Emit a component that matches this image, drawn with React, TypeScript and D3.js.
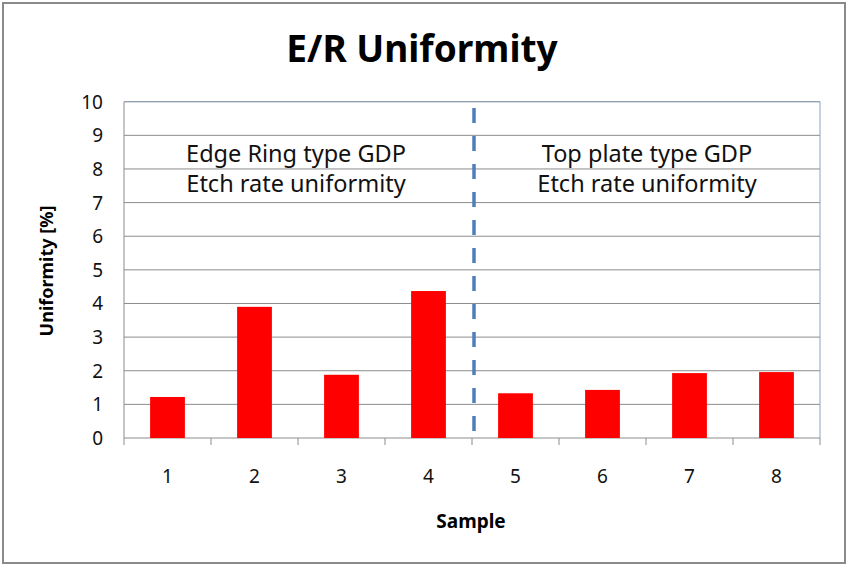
import React from "react";
import * as d3 from "d3";

const samples = ["1", "2", "3", "4", "5", "6", "7", "8"];
const uniformity = [1.22, 3.9, 1.88, 4.37, 1.33, 1.43, 1.93, 1.96];
const yTicks = [0, 1, 2, 3, 4, 5, 6, 7, 8, 9, 10];
const titleText = "E/R Uniformity";
const xTitle = "Sample";
const yTitle = "Uniformity [%]";
const leftNote = ["Edge Ring type GDP", "Etch rate uniformity"];
const rightNote = ["Top plate type GDP", "Etch rate uniformity"];
const dividerAfter = 4;

export default function App() {
  const W = 868, H = 568;
  const left = 124, right = 820, top = 101.7, bottom = 438;
  const x = d3.scaleBand().domain(samples).range([left, right]).paddingInner(0.6).paddingOuter(0.3);
  const xb = d3.scaleBand().domain(samples).range([left, right]);
  const y = d3.scaleLinear().domain([0, 10]).range([bottom, top]);
  const font = "'Noto Sans', 'Open Sans', sans-serif";
  const divX = left + xb.step() * dividerAfter;
  return (
    <svg width={W} height={H} style={{ position: "absolute", left: 0, top: 0, background: "#fff" }}>
      <rect x={3} y={3} width={842} height={560} fill="#fff" stroke="#8a8a8a" strokeWidth={2} />
      <text x={422} y={62} textAnchor="middle" fontFamily={font} fontWeight="bold" fontSize={37}>{titleText}</text>
      {yTicks.map((t) => (
        <g key={t}>
          <line x1={left} x2={right} y1={y(t)} y2={y(t)} stroke="#8c8c8c" strokeWidth={1} />
          <text x={103} y={y(t) + 7} textAnchor="end" fontFamily={font} fontSize={19} fill="#111">{t}</text>
        </g>
      ))}
      <line x1={left} x2={left} y1={top} y2={bottom} stroke="#8c8c8c" />
      <line x1={right} x2={right} y1={top} y2={bottom} stroke="#8ea3bd" />
      <line x1={left} x2={right} y1={top} y2={top} stroke="#8ea3bd" />
      {samples.map((s, i) => (
        <line key={"t" + s} x1={left + xb.step() * i} x2={left + xb.step() * i} y1={bottom} y2={bottom + 7} stroke="#8c8c8c" />
      ))}
      <line x1={right} x2={right} y1={bottom} y2={bottom + 7} stroke="#8c8c8c" />
      {samples.map((s, i) => (
        <rect key={s} x={x(s)} y={y(uniformity[i])} width={x.bandwidth()} height={bottom - y(uniformity[i])} fill="#ff0000" />
      ))}
      {samples.map((s) => (
        <text key={"l" + s} x={(xb(s) as number) + xb.bandwidth() / 2} y={483} textAnchor="middle" fontFamily={font} fontSize={19} fill="#111">{s}</text>
      ))}
      <line x1={divX + 2} x2={divX + 2} y1={108} y2={438} stroke="#4f7fbb" strokeWidth={3.5} strokeDasharray="15 13" />
      {leftNote.map((t, i) => (
        <text key={"ln" + i} x={296} y={162 + i * 30} textAnchor="middle" fontFamily={font} fontSize={23.5} fill="#111">{t}</text>
      ))}
      {rightNote.map((t, i) => (
        <text key={"rn" + i} x={647} y={162 + i * 30} textAnchor="middle" fontFamily={font} fontSize={23.5} fill="#111">{t}</text>
      ))}
      <text x={471} y={528} textAnchor="middle" fontFamily={font} fontWeight="bold" fontSize={19}>{xTitle}</text>
      <text transform={`translate(53,271) rotate(-90)`} textAnchor="middle" fontFamily={font} fontWeight="bold" fontSize={18}>{yTitle}</text>
    </svg>
  );
}
